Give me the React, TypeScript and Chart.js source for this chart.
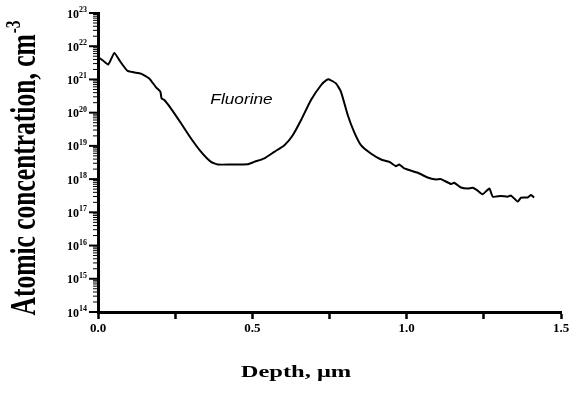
import React, { useEffect, useRef } from "react";
import { Chart, registerables } from "chart.js";

Chart.register(...registerables);

const depthUm = [
  0.005, 0.015, 0.033, 0.053, 0.069, 0.096, 0.139, 0.166, 0.188, 0.202,
  0.206, 0.215, 0.236, 0.269, 0.301, 0.334, 0.366, 0.388, 0.431, 0.485,
  0.506, 0.539, 0.571, 0.604, 0.631, 0.658, 0.690, 0.723, 0.740, 0.749,
  0.771, 0.787, 0.809, 0.830, 0.852, 0.884, 0.917, 0.944, 0.965, 0.976,
  0.992, 1.036, 1.068, 1.095, 1.111, 1.144, 1.154, 1.176, 1.198, 1.214,
  1.230, 1.246, 1.268, 1.279, 1.305, 1.327, 1.338, 1.360, 1.370, 1.392,
  1.403, 1.413,
];

const fluorineConc = [
  4.4e21, 3.8e21, 2.8e21, 6.3e21, 3.8e21, 1.8e21, 1.5e21, 1.07e21, 5.8e20, 4.3e20,
  2.7e20, 2.4e20, 1.35e20, 4.8e19, 1.7e19, 6.6e18, 3.3e18, 2.75e18, 2.75e18, 2.8e18,
  3.3e18, 4.2e18, 6.6e18, 1.05e19, 2.1e19, 6.0e19, 2.4e20, 6.8e20, 9.5e20, 1.0e21,
  7.6e20, 4.3e20, 8.5e19, 2.6e19, 1.05e19, 5.9e18, 3.9e18, 3.3e18, 2.45e18, 2.75e18,
  2.1e18, 1.55e18, 1.12e18, 9.8e17, 1.0e18, 7.1e17, 7.8e17, 5.6e17, 5.2e17, 5.5e17,
  4.5e17, 3.5e17, 5.2e17, 2.95e17, 3.1e17, 2.95e17, 3.2e17, 2.1e17, 2.75e17, 2.8e17,
  3.3e17, 2.8e17,
];

const yExponents = [14, 15, 16, 17, 18, 19, 20, 21, 22, 23];
const xTickStep = 0.25;
const xLabelStep = 0.5;

const seriesLabel = "Fluorine";
const xTitle = "Depth, \u03bcm";
const yTitle = "Atomic concentration, cm";
const yTitleSup = "-3";

const SERIF = "'Liberation Serif', 'Times New Roman', serif";
const SANS = "'Liberation Sans', Arial, sans-serif";

const decorPlugin = {
  id: "decor",
  afterDraw(chart: any) {
    const ctx = chart.ctx;
    const y = chart.scales.y;
    const area = chart.chartArea;
    const left = area.left;
    ctx.save();
    ctx.strokeStyle = "#000";
    ctx.fillStyle = "#000";
    // y major ticks + labels
    for (const k of yExponents) {
      const py = y.getPixelForValue(Math.pow(10, k));
      ctx.lineWidth = 2;
      ctx.beginPath();
      ctx.moveTo(left - 9, py);
      ctx.lineTo(left, py);
      ctx.stroke();
      ctx.font = `bold 12px ${SERIF}`;
      const base = "10";
      const exp = String(k);
      const bw = ctx.measureText(base).width;
      ctx.font = `bold 8px ${SERIF}`;
      const ew = ctx.measureText(exp).width;
      const right = left - 11;
      ctx.textAlign = "left";
      ctx.textBaseline = "alphabetic";
      ctx.font = `bold 12px ${SERIF}`;
      ctx.fillText(base, right - ew - bw, py + 4.5);
      ctx.font = `bold 8px ${SERIF}`;
      ctx.fillText(exp, right - ew, py - 1);
    }
    // y minor ticks
    ctx.lineWidth = 1;
    for (const k of yExponents) {
      if (k === yExponents[yExponents.length - 1]) continue;
      for (let m = 2; m <= 9; m++) {
        const py = y.getPixelForValue(m * Math.pow(10, k));
        ctx.beginPath();
        ctx.moveTo(left - 5, py);
        ctx.lineTo(left, py);
        ctx.stroke();
      }
    }
    // y title
    ctx.save();
    ctx.translate(35, 168.5);
    ctx.scale(1.4, 1);
    ctx.rotate(-Math.PI / 2);
    const F = 25.5;
    ctx.font = `bold ${F}px ${SERIF}`;
    const mw = ctx.measureText(yTitle).width;
    ctx.font = `bold ${F * 0.6}px ${SERIF}`;
    const sw = ctx.measureText(yTitleSup).width;
    const start = -(mw + sw) / 2;
    ctx.textAlign = "left";
    ctx.font = `bold ${F}px ${SERIF}`;
    ctx.fillText(yTitle, start, 0);
    ctx.font = `bold ${F * 0.6}px ${SERIF}`;
    ctx.fillText(yTitleSup, start + mw + 1, -F * 0.42);
    ctx.restore();
    // x title
    ctx.save();
    ctx.translate(296, 377);
    ctx.scale(1.4, 1);
    ctx.font = `bold 17.5px ${SERIF}`;
    ctx.textAlign = "center";
    ctx.fillText(xTitle, 0, 0);
    ctx.restore();
    // series annotation
    ctx.save();
    ctx.translate(241.5, 104);
    ctx.scale(1.15, 1);
    ctx.font = `italic 15px ${SANS}`;
    ctx.textAlign = "center";
    ctx.fillText(seriesLabel, 0, 0);
    ctx.restore();
    ctx.restore();
  },
};

export default function App() {
  const ref = useRef<HTMLCanvasElement>(null);
  useEffect(() => {
    document.body.style.margin = "0";
    const canvas = ref.current!;
    const points = depthUm.map((d, i) => ({ x: d, y: fluorineConc[i] }));
    const chart = new Chart(canvas, {
      type: "line",
      data: {
        datasets: [
          {
            label: seriesLabel,
            data: points,
            borderColor: "#000",
            borderWidth: 2,
            pointRadius: 0,
            tension: 0.15,
            fill: false,
          },
        ],
      },
      options: {
        animation: false,
        responsive: false,
        devicePixelRatio: 1,
        layout: { padding: { top: 13, right: 15, left: 0, bottom: 0 } },
        plugins: { legend: { display: false }, tooltip: { enabled: false } },
        scales: {
          x: {
            type: "linear",
            min: 0,
            max: 1.5,
            afterFit: (s: any) => {
              s.height = 90;
            },
            border: { display: true, color: "#000", width: 3 },
            grid: {
              drawOnChartArea: false,
              drawTicks: true,
              tickLength: 7,
              tickWidth: 2.5,
              tickColor: "#000",
            },
            ticks: {
              stepSize: xTickStep,
              autoSkip: false,
              maxRotation: 0,
              padding: 2,
              color: "#000",
              font: { family: SERIF, weight: "bold", size: 13 },
              callback: (v: any) => {
                const n = Number(v);
                const r = n / xLabelStep;
                return Math.abs(r - Math.round(r)) < 1e-9 ? n.toFixed(1) : "";
              },
            },
          },
          y: {
            type: "logarithmic",
            min: 1e14,
            max: 1e23,
            afterFit: (s: any) => {
              s.width = 98;
            },
            border: { display: true, color: "#000", width: 3 },
            grid: { display: false },
            ticks: { display: false },
          },
        },
      } as any,
      plugins: [decorPlugin],
    });
    return () => chart.destroy();
  }, []);
  return (
    <div style={{ position: "absolute", left: 0, top: 0, width: 576, height: 402 }}>
      <canvas ref={ref} width={576} height={402} />
    </div>
  );
}
